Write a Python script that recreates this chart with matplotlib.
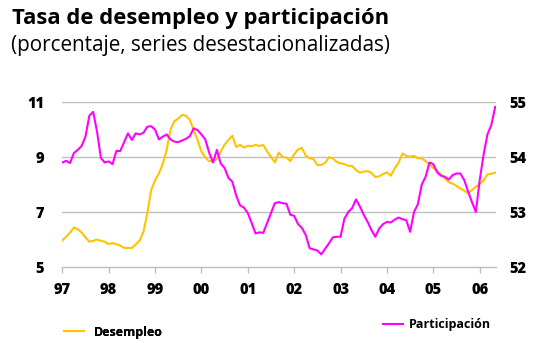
import matplotlib.pyplot as plt
import numpy as np

# monthly series, Jan 1997 - May 2006
desempleo = [
    5.96, 6.10, 6.25, 6.43, 6.38, 6.25, 6.08, 5.92, 5.95, 6.00, 5.95, 5.92,
    5.83, 5.87, 5.83, 5.78, 5.69, 5.69, 5.69, 5.82, 5.96, 6.28, 6.95, 7.80,
    8.15, 8.40, 8.75, 9.25, 10.00, 10.30, 10.40, 10.53, 10.50, 10.35, 9.98, 9.62,
    9.20, 8.98, 8.85, 8.85, 8.93, 9.20, 9.45, 9.62, 9.77, 9.37, 9.44, 9.34,
    9.41, 9.39, 9.44, 9.40, 9.44, 9.20, 9.01, 8.80, 9.16, 9.00, 8.98, 8.85,
    9.10, 9.28, 9.33, 9.04, 8.95, 8.93, 8.71, 8.71, 8.79, 8.99, 8.95, 8.82,
    8.77, 8.74, 8.68, 8.67, 8.53, 8.43, 8.47, 8.49, 8.42, 8.27, 8.30, 8.38,
    8.44, 8.32, 8.59, 8.79, 9.13, 9.04, 9.01, 9.04, 8.95, 8.95, 8.85, 8.73,
    8.60, 8.50, 8.36, 8.22, 8.08, 8.03, 7.95, 7.85, 7.77, 7.68, 7.80, 7.92,
    8.02, 8.14, 8.37, 8.39, 8.43,
]
participacion = [
    53.90, 53.93, 53.89, 54.07, 54.13, 54.20, 54.37, 54.75, 54.82, 54.46, 53.98, 53.90,
    53.92, 53.87, 54.11, 54.11, 54.27, 54.43, 54.31, 54.43, 54.41, 54.44, 54.55, 54.56,
    54.50, 54.32, 54.37, 54.41, 54.32, 54.28, 54.27, 54.30, 54.33, 54.38, 54.52, 54.49,
    54.41, 54.32, 54.08, 53.90, 54.13, 53.88, 53.80, 53.62, 53.55, 53.30, 53.12, 53.08,
    52.98, 52.80, 52.61, 52.63, 52.62, 52.80, 52.98, 53.16, 53.18, 53.16, 53.15, 52.95,
    52.93, 52.78, 52.71, 52.58, 52.34, 52.32, 52.30, 52.23, 52.33, 52.43, 52.54, 52.55,
    52.55, 52.88, 53.00, 53.07, 53.23, 53.10, 52.95, 52.82, 52.67, 52.55, 52.70, 52.78,
    52.82, 52.81, 52.86, 52.90, 52.87, 52.85, 52.64, 53.00, 53.14, 53.50, 53.64, 53.90,
    53.87, 53.72, 53.66, 53.64, 53.59, 53.67, 53.70, 53.70, 53.58, 53.37, 53.18, 53.00,
    53.58, 54.04, 54.41, 54.58, 54.91,
]
year_labels = ['97', '98', '99', '00', '01', '02', '03', '04', '05', '06']

YELLOW = '#FFC400'
MAGENTA = '#FF00FF'
GRID = '#BEBEBE'
FONT = 'Open Sans'

plt.rcParams['font.family'] = [FONT, 'DejaVu Sans']

fig = plt.figure(figsize=(5.35, 3.43), dpi=100)
ax = fig.add_axes([0.1164, 0.2216, 0.8106, 0.481])
ax2 = ax.twinx()

months = np.arange(len(desempleo))
l1, = ax.plot(months, desempleo, color=YELLOW, lw=1.5, label='Desempleo')
l2, = ax2.plot(months, participacion, color=MAGENTA, lw=1.5,
               label='Participación')

ax.set_xlim(0, len(desempleo) - 0.8)
ax.set_ylim(5, 11)
ax2.set_ylim(52, 55)

ax.set_yticks([5, 7, 9, 11])
ax2.set_yticks([52, 53, 54, 55])
for y in [7, 9, 11]:
    ax.axhline(y, color=GRID, lw=1, zorder=0)

ax.set_xticks(np.arange(len(year_labels)) * 12)
ax.set_xticklabels(year_labels)

for a in (ax, ax2):
    for s in a.spines.values():
        s.set_visible(False)
ax.spines['bottom'].set_visible(True)
ax.spines['bottom'].set_color(GRID)
ax.spines['bottom'].set_linewidth(1)

ax.tick_params(axis='x', length=4, color=GRID, width=1, pad=7,
               labelsize=10.5)
ax.tick_params(axis='y', length=0, pad=13, labelsize=10.5)
ax2.tick_params(axis='y', length=0, pad=10, labelsize=10.5)
for lab in ax.get_xticklabels() + ax.get_yticklabels() + ax2.get_yticklabels():
    lab.set_fontweight('heavy')

fig.text(0.022, 0.947, 'Tasa de desempleo y participación', fontsize=15.8,
         fontweight='bold', va='center', ha='left')
fig.text(0.020, 0.866, '(porcentaje, series desestacionalizadas)',
         fontsize=14.9, va='center', ha='left')

leg_font = {'weight': 'bold', 'size': 9}
leg1 = fig.legend(handles=[l1], loc='center left',
                  bbox_to_anchor=(0.099, 0.032), frameon=False,
                  prop=leg_font, handlelength=1.6, handletextpad=0.8)
fig.add_artist(leg1)
fig.legend(handles=[l2], loc='center left', bbox_to_anchor=(0.694, 0.053),
           frameon=False, prop=leg_font, handlelength=1.6,
           handletextpad=0.5)

fig.savefig('out.png', dpi=100)
